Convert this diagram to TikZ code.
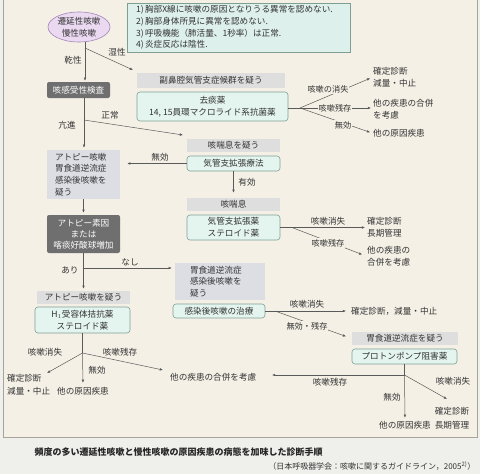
\documentclass[tikz,border=0pt]{standalone}
\usepackage{fontspec}
\setmainfont{Noto Sans CJK JP}
\usetikzlibrary{arrows.meta,shapes.geometric,calc}
\definecolor{pagef}{HTML}{EFEFEC}
\definecolor{panelf}{HTML}{F4F0E6}
\definecolor{panelb}{HTML}{A8A49C}
\definecolor{cyanf}{HTML}{E4F4EF}
\definecolor{cyanb}{HTML}{7F9F95}
\definecolor{critf}{HTML}{DDF0EC}
\definecolor{grayf}{HTML}{DEDEDE}
\definecolor{grayb}{HTML}{DCDEE4}
\definecolor{darkf}{HTML}{6F6F6F}
\definecolor{ellf}{HTML}{EAD9F0}
\definecolor{ellb}{HTML}{A585B8}
\definecolor{linec}{HTML}{5A5A5A}
\definecolor{txtc}{HTML}{333333}
\begin{document}
\begin{tikzpicture}[x=1pt,y=-1pt,
  every node/.style={font=\fontsize{8.6}{11.7}\selectfont, text=txtc},
  cyanbox/.style={draw=cyanb, fill=cyanf, rounded corners=3pt, line width=0.6pt, inner sep=0pt, align=center},
  graylab/.style={fill=grayf, inner sep=0pt, align=center},
  darkbox/.style={fill=darkf, text=white, rounded corners=2pt, inner sep=0pt, align=center},
  txt/.style={inner sep=1pt, align=left},
  lbl/.style={fill=panelf, inner sep=0.8pt, font=\fontsize{8.2}{10}\selectfont},
  ln/.style={draw=linec, line width=0.5pt},
  arr/.style={ln, -{Latex[length=3.2pt,width=2.6pt]}},
]
\useasboundingbox (0,0) rectangle (480,474);
\fill[pagef] (0,0) rectangle (480,474);
\filldraw[fill=panelf, draw=panelb, line width=0.5pt] (3,-2) rectangle (477,437);

% nodes
\node[ellipse, draw=ellb, fill=ellf, line width=0.6pt, minimum width=62pt, minimum height=30pt, inner sep=0pt, align=center] (ell) at (79,27) {遷延性咳嗽\\慢性咳嗽};
\node[draw=cyanb, fill=critf, line width=0.5pt, text width=205pt, inner xsep=9pt, inner ysep=0pt, minimum height=49pt, align=left] (crit) at (238.5,27.5) {1)\,胸部X線に咳嗽の原因となりうる異常を認めない.\\2)\,胸部身体所見に異常を認めない.\\3)\,呼吸機能（肺活量、1秒率）は正常.\\4)\,炎症反応は陰性.};

\node[darkbox, minimum width=63pt, minimum height=16pt] (sens) at (78.5,90) {咳感受性検査};
\node[graylab, minimum width=148pt, minimum height=15pt] (sinus) at (211,80.5) {副鼻腔気管支症候群を疑う};
\node[cyanbox, minimum width=151pt, minimum height=29pt] (kyotan) at (212.5,106.5) {去痰薬\\14, 15員環マクロライド系抗菌薬};
\node[txt, anchor=west] (t1) at (372,77.5) {確定診断\\減量・中止};
\node[txt, anchor=west] (t2) at (372,109) {他の疾患の合併\\を考慮};
\node[txt, anchor=west] (t3) at (372,133) {他の原因疾患};

\node[graylab, minimum width=93pt, minimum height=13pt] (asth) at (233.5,145.5) {咳喘息を疑う};
\node[cyanbox, minimum width=93pt, minimum height=15pt] (bron) at (233.5,163.5) {気管支拡張療法};
\node[graylab, fill=grayb, text width=57pt, inner xsep=8pt, minimum height=49pt, align=left] (atopy) at (83.5,174.5) {アトピー咳嗽\\胃食道逆流症\\感染後咳嗽を\\疑う};

\node[graylab, minimum width=93pt, minimum height=13pt] (asth2) at (233.5,204.5) {咳喘息};
\node[cyanbox, minimum width=93pt, minimum height=25pt] (bron2) at (233.5,227.5) {気管支拡張薬\\ステロイド薬};
\node[txt, anchor=west] (t4) at (366,227.5) {確定診断\\長期管理};
\node[txt, anchor=west] (t5) at (366,256) {他の疾患の\\合併を考慮};

\node[darkbox, minimum width=73pt, minimum height=38pt, font=\fontsize{8.6}{11}\selectfont] (at2) at (83.5,234) {アトピー素因\\または\\喀痰好酸球増加};
\node[graylab, minimum width=93pt, minimum height=13pt] (atlab) at (83.5,297.5) {アトピー咳嗽を疑う};
\node[cyanbox, minimum width=95pt, minimum height=26pt] (h1) at (82.5,320) {H$_1$受容体拮抗薬\\ステロイド薬};
\node[txt, anchor=west, font=\fontsize{8.6}{13}\selectfont] (t6) at (6,384.5) {確定診断\\減量・中止};
\node[txt] (t8) at (83,391) {他の原因疾患};
\node[txt, anchor=west] (t9) at (169,377) {他の疾患の合併を考慮};

\node[graylab, fill=grayb, text width=60pt, inner xsep=15pt, minimum height=37pt, align=left, font=\fontsize{8.6}{11.5}\selectfont] (gerd) at (220,281.5) {胃食道逆流症\\感染後咳嗽を\\疑う};
\node[cyanbox, minimum width=92pt, minimum height=14pt] (inf) at (219,311) {感染後咳嗽の治療};
\node[txt, anchor=west] (t10) at (350,311) {確定診断，減量・中止};
\node[graylab, minimum width=106pt, minimum height=13pt] (gerd2) at (405,338.5) {胃食道逆流症を疑う};
\node[cyanbox, minimum width=105pt, minimum height=15pt] (ppi) at (404.5,356.5) {プロトンポンプ阻害薬};
\node[txt] (t11) at (405,425) {他の原因疾患};
\node[txt, font=\fontsize{8.6}{14}\selectfont] (t12) at (452,418) {確定診断\\長期管理};

% connectors
\coordinate (b1) at (85,48);
\draw[ln] (ell.south -| b1) -- (b1);
\draw[arr, shorten >=1pt] (b1) -- (b1 |- sens.north);
\coordinate (a1) at (133,70);
\draw[arr] (b1) -- (a1);

\coordinate (b2) at (84,120);
\draw[ln] (sens.south -| b2) -- (b2);
\draw[arr, shorten >=2pt] (b2) -- (b2 |- atopy.north);
\coordinate (a2) at (183,135);
\draw[arr] (b2) -- (a2);

\coordinate (f1) at (300,108);
\draw[ln] (kyotan.east |- f1) -- (f1);
\draw[arr, shorten >=2pt] (f1) -- (t1.west);
\draw[arr, shorten >=1pt] (f1) -- (t2.west |- f1);
\draw[arr, shorten >=2pt] (f1) -- (t3.west);

\draw[arr, shorten >=7pt] (bron.west) -- (bron.west -| atopy.east);
\draw[arr, shorten >=5pt] (bron.south) -- (asth2.north);

\coordinate (f3) at (292,227.5);
\draw[arr, shorten >=1pt] (bron2.east) -- (t4.west |- bron2.east);
\draw[arr, shorten >=4pt] (f3) -- (t5.west);

\draw[arr, shorten >=2pt] (atopy.south) -- (at2.north);
\coordinate (b4) at (83.5,268);
\draw[ln] (at2.south) -- (b4);
\draw[arr, shorten >=2pt] (b4) -- (atlab.north);
\draw[arr, shorten >=3pt] (b4) -- (b4 -| gerd.west);

\coordinate (b5) at (82.5,353);
\draw[ln] (h1.south) -- (b5);
\coordinate (a6) at (47,373);
\draw[arr] (b5) -- (a6);
\draw[arr, shorten >=3pt] (b5) -- (t8.north);
\coordinate (a9) at (163,370);
\draw[arr] (b5) -- (a9);

\coordinate (f6) at (275,311);
\draw[arr, shorten >=4pt] (inf.east) -- (t10.west);
\draw[arr, shorten >=6pt] (f6) -- (gerd2.west);

\coordinate (f7) at (404.5,375);
\draw[ln] (ppi.south) -- (f7);
\coordinate (a7) at (272,375);
\draw[arr] (f7) -- (a7);
\draw[arr, shorten >=2pt] (f7) -- (t11.north);
\coordinate (a8) at (447,399);
\draw[arr] (f7) -- (a8);

% labels
\node[txt] (l1) at (73,60) {乾性};
\node[txt] (l2) at (117,52) {湿性};
\node[txt] (l3) at (67,125) {亢進};
\node[txt] (l4) at (110,115) {正常};
\node[lbl] (l5) at (328,89) {咳嗽の消失};
\node[lbl] (l6) at (335,108) {咳嗽残存};
\node[lbl] (l7) at (343,125) {無効};
\node[txt] (l8) at (160,157) {無効};
\node[txt] (l9) at (247,182) {有効};
\node[txt] (l10) at (328,221) {咳嗽消失};
\node[lbl] (l11) at (328,243) {咳嗽残存};
\node[txt] (l12) at (70,270) {あり};
\node[txt] (l13) at (130,262) {なし};
\node[txt] (l14) at (45,352) {咳嗽消失};
\node[txt] (l15) at (120,352) {咳嗽残存};
\node[txt] (l16) at (97,370) {無効};
\node[txt] (l17) at (307,304) {咳嗽消失};
\node[lbl] (l18) at (307,326) {無効・残存};
\node[txt] (l19) at (330,382) {咳嗽残存};
\node[txt] (l20) at (392,397) {無効};
\node[txt] (l21) at (453,381) {咳嗽消失};

% caption
\node[anchor=west, font=\bfseries\fontsize{9}{11}\selectfont, text=black!85] (cap) at (31,452) {頻度の多い遷延性咳嗽と慢性咳嗽の原因疾患の病態を加味した診断手順};
\node[anchor=east, font=\fontsize{8}{10}\selectfont] (cite) at (479,466) {（日本呼吸器学会：咳嗽に関するガイドライン，2005\textsuperscript{2)}）};
\end{tikzpicture}
\end{document}
